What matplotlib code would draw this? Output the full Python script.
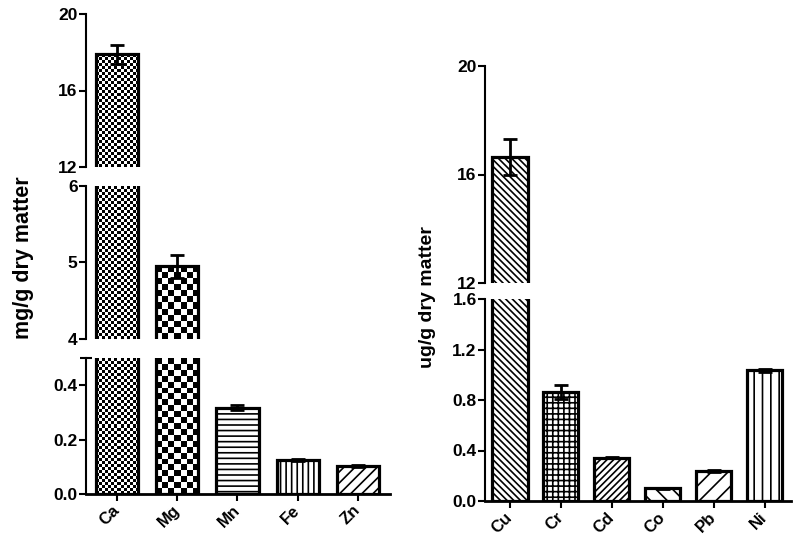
import numpy as np
import matplotlib.pyplot as plt
from matplotlib.transforms import ScaledTranslation

plt.rcParams['font.family'] = ['Liberation Sans', 'DejaVu Sans']
plt.rcParams['font.weight'] = 'bold'
plt.rcParams['hatch.linewidth'] = 1.2

W, H = 797, 543

# left panel: macro elements, mg/g
macro_names = ['Ca', 'Mg', 'Mn', 'Fe', 'Zn']
macro_vals = [17.9, 4.95, 0.318, 0.125, 0.103]
macro_err = [0.5, 0.15, 0.01, 0.003, 0.005]
macro_fill = ['check3', 'check6', '---', '|||', '///']

# right panel: trace elements, ug/g
trace_names = ['Cu', 'Cr', 'Cd', 'Co', 'Pb', 'Ni']
trace_vals = [16.65, 0.865, 0.343, 0.10, 0.238, 1.035]
trace_err = [0.65, 0.055, 0.005, 0.003, 0.01, 0.012]
trace_fill = ['\\\\\\\\\\', '+++', '/////', '\\\\', '//', '||']

fig = plt.figure(figsize=(W / 100, H / 100), dpi=100)


def ax_px(left, top, right, bottom):
    return fig.add_axes([left / W, 1 - bottom / H, (right - left) / W, (bottom - top) / H])


def checker_fill(ax, bar, cell):
    x0, w, h = bar.get_x(), bar.get_width(), bar.get_height()
    y0, y1 = ax.get_ylim()
    yb, yt = max(0, y0), min(h, y1)
    if yt <= yb:
        return
    p0 = ax.transData.transform((x0, yb))
    p1 = ax.transData.transform((x0 + w, yt))
    nx = max(1, int(round((p1[0] - p0[0]) / cell)))
    ny = max(1, int(round((p1[1] - p0[1]) / cell)))
    board = np.indices((ny, nx)).sum(axis=0) % 2
    im = ax.imshow(board, cmap='gray', extent=(x0, x0 + w, yb, yt), aspect='auto',
                   interpolation='nearest', zorder=1)
    im.set_clip_path(bar)


def segment(ax, names, vals, errs, fills, xlim, ylim, ticks, fmt, width, bottom_axis=False):
    ax.set_xlim(*xlim)
    ax.set_ylim(*ylim)
    x = np.arange(len(names))
    for i in range(len(names)):
        f = fills[i]
        if f.startswith('check'):
            b = ax.bar(x[i], vals[i], width, facecolor='none', edgecolor='black',
                       linewidth=2.3, zorder=2)[0]
            checker_fill(ax, b, float(f[5:]))
        else:
            ax.bar(x[i], vals[i], width, facecolor='white', edgecolor='black',
                   linewidth=2.3, hatch=f, zorder=2)
    ax.errorbar(x, vals, yerr=errs, fmt='none', ecolor='black', elinewidth=2,
                capsize=5, capthick=2, zorder=3)
    ax.set_xlim(*xlim)
    ax.set_ylim(*ylim)
    for s in ['top', 'right']:
        ax.spines[s].set_visible(False)
    ax.spines['left'].set_linewidth(1.5)
    ax.set_yticks(ticks)
    ax.set_yticklabels([fmt.format(t) for t in ticks], fontsize=12.5, fontweight='bold')
    ax.tick_params(axis='y', width=1.5, length=5, pad=1)
    if bottom_axis:
        ax.spines['bottom'].set_linewidth(2)
        ax.set_xticks(x)
        labels = ax.set_xticklabels(names, rotation=45, ha='right', va='center',
                                    rotation_mode='anchor', fontsize=12, fontweight='bold')
        shift = ScaledTranslation(4 / 100, -3 / 100, fig.dpi_scale_trans)
        for lab in labels:
            lab.set_transform(lab.get_transform() + shift)
        ax.tick_params(axis='x', width=1.5, length=5, pad=5)
    else:
        ax.spines['bottom'].set_visible(False)
        ax.set_xticks([])
    ax.patch.set_alpha(0)


# left panel, three segments
lx = (-0.51, 4.53)
a1 = ax_px(86, 14, 390, 167)
segment(a1, macro_names, macro_vals, macro_err, macro_fill, lx, (12, 20), [12, 16, 20], '{:g}', 0.7)
a2 = ax_px(86, 186, 390, 339)
segment(a2, macro_names, macro_vals, macro_err, macro_fill, lx, (4, 6), [4, 5, 6], '{:g}', 0.7)
a3 = ax_px(86, 358, 390, 494)
segment(a3, macro_names, macro_vals, macro_err, macro_fill, lx, (0, 0.5), [0, 0.2, 0.4], '{:.1f}', 0.7,
        bottom_axis=True)
a3.set_yticks([0.5], minor=True)
a3.tick_params(axis='y', which='minor', direction='inout', length=8, width=1.5)

# right panel, two segments
rx = (-0.49, 5.52)
b1 = ax_px(485, 66, 791, 283)
segment(b1, trace_names, trace_vals, trace_err, trace_fill, rx, (12, 20), [12, 16, 20], '{:g}', 0.69)
b2 = ax_px(485, 299, 791, 501)
segment(b2, trace_names, trace_vals, trace_err, trace_fill, rx, (0, 1.6), [0, 0.4, 0.8, 1.2, 1.6], '{:.1f}', 0.69,
        bottom_axis=True)

fig.text(24 / W, 1 - 258 / H, 'mg/g dry matter', rotation=90, ha='center', va='center',
         fontsize=15.5, fontweight='bold')
fig.text(428 / W, 1 - 297 / H, 'ug/g dry matter', rotation=90, ha='center', va='center',
         fontsize=14, fontweight='bold')

fig.savefig('out.png', dpi=100)
